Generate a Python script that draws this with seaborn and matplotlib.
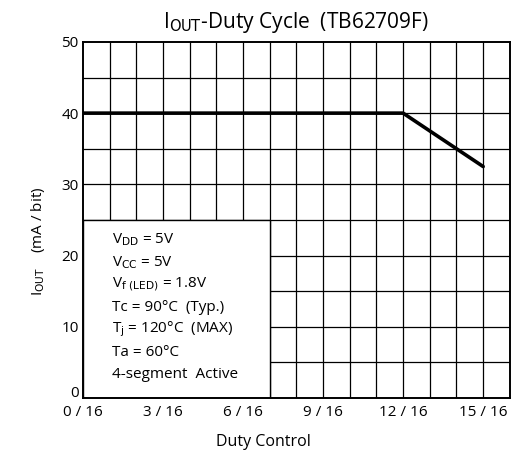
import numpy as np
import pandas as pd
import matplotlib
matplotlib.use('Agg')
import matplotlib.pyplot as plt
import matplotlib.transforms as mtransforms
import seaborn as sns

# data
duty_steps = [0, 12, 15]          # in 1/16 units
iout_ma = [40, 40, 32.5]          # mA / bit
xtick_steps = [0, 3, 6, 9, 12, 15]
xtick_labels = [f'{s} / 16' for s in xtick_steps]
ytick_vals = [0, 10, 20, 30, 40, 50]
conditions = [
    r'V$_{\mathrm{DD}}$ = 5V',
    r'V$_{\mathrm{CC}}$ = 5V',
    r'V$_{\mathrm{f\ (LED)}}$ = 1.8V',
    'Tc = 90°C  (Typ.)',
    r'T$_{\mathrm{j}}$ = 120°C  (MAX)',
    'Ta = 60°C',
    '4-segment  Active',
]

sns.set_theme(style='white', rc={
    'axes.edgecolor': 'black',
    'axes.linewidth': 1.4,
    'xtick.color': 'black',
    'ytick.color': 'black',
    'text.color': 'black',
    'axes.labelcolor': 'black',
})
plt.rcParams['font.family'] = ['Open Sans', 'DejaVu Sans']
plt.rcParams['mathtext.default'] = 'regular'

fig = plt.figure(figsize=(5.15, 4.71), dpi=100)
ax = fig.add_axes([0.161, 0.155, 0.829, 0.756])

df = pd.DataFrame({'duty': duty_steps, 'iout': iout_ma})

# grid: every 1/16 vertically, every 5 mA horizontally
for xv in range(1, 16):
    ax.axvline(xv, color='black', linewidth=0.9, zorder=1)
for yv in range(5, 50, 5):
    ax.axhline(yv, color='black', linewidth=0.9, zorder=1)

# white box with operating conditions hides grid in lower-left
ax.add_patch(plt.Rectangle((0, 0), 7, 25, facecolor='white', edgecolor='black',
                           linewidth=1.0, zorder=2))

sns.lineplot(data=df, x='duty', y='iout', ax=ax, color='black', linewidth=2.6,
             zorder=3)

ax.set_xlim(0, 16)
ax.set_ylim(0, 50)
ax.set_xticks(xtick_steps)
ax.set_xticklabels(xtick_labels, fontsize=11)
ax.set_yticks(ytick_vals)
ax.set_yticklabels([str(v) for v in ytick_vals], fontsize=11)
ax.tick_params(axis='x', length=0, pad=5)
ax.tick_params(axis='y', length=0, pad=3)

# nudge the "0" on the y axis up a little so it clears "0 / 16"
zero_lab = ax.get_yticklabels()[0]
zero_lab.set_transform(zero_lab.get_transform() +
                       mtransforms.ScaledTranslation(0, 5 / 72, fig.dpi_scale_trans))

for i, line in enumerate(conditions):
    ax.text(1.1, 22.2 - i * 3.15, line, fontsize=11, va='center', ha='left', zorder=4)

ax.set_xlabel('Duty Control', fontsize=11.5)
ax.xaxis.set_label_coords(0.424, -0.10)
ax.set_ylabel(r'I$_{\mathrm{OUT}}$    (mA / bit)', fontsize=11)
ax.yaxis.set_label_coords(-0.085, 0.44)
ax.set_title(r'I$_{\mathrm{OUT}}$-Duty Cycle  (TB62709F)', fontsize=15, pad=10)

fig.savefig('out.png', dpi=100)
